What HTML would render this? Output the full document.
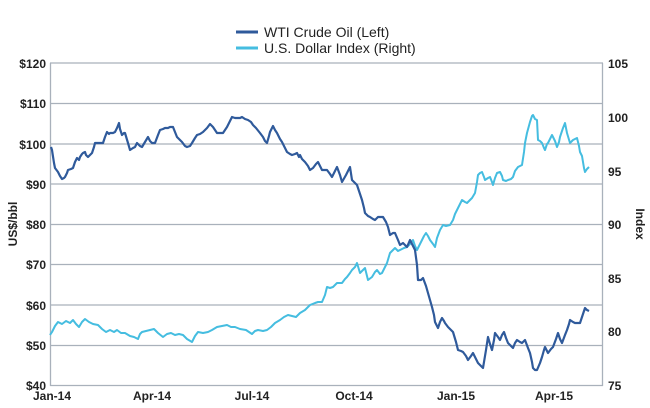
<!DOCTYPE html>
<html><head><meta charset="utf-8"><style>
html,body{margin:0;padding:0;background:#fff;}
svg{display:block;font-family:"Liberation Sans",sans-serif;}
</style></head><body>
<svg width="650" height="408" viewBox="0 0 650 408" xmlns="http://www.w3.org/2000/svg">
<g stroke="#a9b1bb" stroke-width="1.3">
<line x1="50" y1="63" x2="603" y2="63"/>
<line x1="50" y1="103.5" x2="603" y2="103.5"/>
<line x1="50" y1="144" x2="603" y2="144"/>
<line x1="50" y1="184" x2="603" y2="184"/>
<line x1="50" y1="224.5" x2="603" y2="224.5"/>
<line x1="50" y1="264.5" x2="603" y2="264.5"/>
<line x1="50" y1="305" x2="603" y2="305"/>
<line x1="50" y1="345.5" x2="603" y2="345.5"/>
<line x1="50" y1="385.5" x2="603" y2="385.5"/>
<line x1="50.5" y1="63" x2="50.5" y2="386"/>
<line x1="602.5" y1="63" x2="602.5" y2="386"/>
</g>
<g font-size="12" font-weight="bold" fill="#222" text-anchor="end">
<text x="46" y="68">$120</text><text x="46" y="108">$110</text><text x="46" y="149">$100</text>
<text x="46" y="189">$90</text><text x="46" y="229">$80</text><text x="46" y="269">$70</text>
<text x="46" y="310">$60</text><text x="46" y="350">$50</text><text x="46" y="390">$40</text>
</g>
<g font-size="12" font-weight="bold" fill="#222" text-anchor="start">
<text x="608" y="68">105</text><text x="608" y="122">100</text><text x="608" y="176">95</text>
<text x="608" y="229">90</text><text x="608" y="283">85</text><text x="608" y="336">80</text><text x="608" y="390">75</text>
</g>
<g font-size="12" font-weight="bold" fill="#222" text-anchor="middle">
<text x="52" y="400">Jan-14</text><text x="152" y="400">Apr-14</text><text x="252" y="400">Jul-14</text>
<text x="354" y="400">Oct-14</text><text x="456" y="400">Jan-15</text><text x="554" y="400">Apr-15</text>
</g>
<text transform="translate(17,224) rotate(-90)" font-size="12" font-weight="bold" fill="#222" text-anchor="middle">US$/bbl</text>
<text transform="translate(636,224) rotate(90)" font-size="12" font-weight="bold" fill="#222" text-anchor="middle">Index</text>
<line x1="236" y1="32" x2="258" y2="32" stroke="#2f5a9b" stroke-width="3"/>
<line x1="236" y1="48" x2="258" y2="48" stroke="#45bde0" stroke-width="3"/>
<text x="264" y="37" font-size="14" fill="#222">WTI Crude Oil  (Left)</text>
<text x="264" y="53" font-size="14" fill="#222">U.S. Dollar Index  (Right)</text>
<polyline fill="none" stroke="#45bde0" stroke-width="2" stroke-linejoin="round" points="50,335 52,332 55,326 58,322 62,324 66,321 70,323 73,320 76,324 79,327 82,322 85,319 89,322 93,324 98,325 102,329 106,332 110,330 114,332 117,330 121,333 125,333 130,336 134,337 138,339 140,334 142,332 146,331 150,330 154,329 158,333 163,337 167,334 171,333 175,335 179,334 183,335 187,339 192,342 195,336 198,332 203,333 208,332 212,330 217,327 222,326 227,325 231,327 235,327 240,329 246,330 249,332 252,334 255,331 258,330 263,331 267,330 271,327 275,323 280,320 284,317 288,315 292,316 296,317 300,313 305,310 310,305 315,303 318,302 322,302 325,295 327,287 330,288 333,287 337,283 342,283 345,279 347,277 350,273 352,270 355,267 357,263 360,273 363,270 365,268 368,280 372,277 375,272 377,270 380,274 382,273 385,267 387,263 390,253 393,250 395,248 398,251 400,250 404,248 407,247 410,244 413,240 415,246 417,250 420,244 422,240 424,236 426,233 428,236 430,240 433,244 435,247 437,238 440,230 443,225 446,226 450,225 453,220 455,214 457,210 460,204 462,200 465,202 467,203 470,200 472,198 475,193 477,182 478,175 480,173 482,172 484,177 485,180 488,178 490,177 492,182 493,185 495,178 497,173 500,172 502,176 503,180 506,181 508,180 511,179 513,177 515,171 518,167 520,166 522,165 524,152 525,143 527,133 530,122 532,116 533,115 535,119 537,120 538,140 540,141 542,143 544,148 545,150 547,144 548,143 550,139 552,135 555,141 557,147 559,142 560,137 563,128 565,123 567,133 570,143 572,141 573,140 575,139 577,138 579,146 580,152 582,156 584,168 585,172 587,169 589,167"/>
<polyline fill="none" stroke="#2f5a9b" stroke-width="2.2" stroke-linejoin="round" points="51,147 52,150 54,163 55,168 58,172 60,176 62,179 64,178 65,177 67,173 68,170 71,169 73,168 75,162 77,158 79,160 80,157 82,154 83,153 85,152 86,155 88,157 90,155 92,153 94,147 95,143 99,143 103,143 105,137 107,132 109,134 110,133 113,133 115,132 117,128 119,123 120,129 122,135 124,133 125,133 128,143 130,150 133,148 135,147 137,143 140,146 142,147 145,142 148,137 150,141 152,143 155,143 158,135 160,130 163,129 165,128 168,128 170,127 173,127 175,132 177,137 180,140 182,142 185,146 187,147 190,146 192,143 195,138 197,135 200,134 203,132 207,128 210,124 212,126 213,127 215,130 217,133 220,133 223,133 225,130 227,127 230,121 232,117 235,118 238,118 240,118 242,117 245,119 248,120 251,122 253,125 256,128 260,133 263,137 265,141 267,143 269,136 270,132 272,128 273,126 275,130 277,133 280,139 282,142 285,148 287,152 290,154 292,155 295,154 297,153 299,157 300,155 302,159 305,162 308,166 310,170 313,168 316,164 318,162 320,166 322,170 325,170 327,170 330,174 332,177 335,171 337,167 340,175 342,182 346,175 350,167 352,180 355,183 357,185 360,194 362,200 364,208 365,213 368,216 370,217 373,219 375,220 378,217 381,217 383,217 386,222 388,227 390,235 393,233 395,233 398,240 400,245 403,243 405,245 407,247 410,240 413,246 415,250 417,265 418,280 421,280 423,278 426,286 428,293 430,300 432,307 434,315 435,322 437,326 438,328 440,322 442,318 444,321 445,323 448,327 450,329 453,332 456,342 458,350 461,351 463,352 466,356 468,360 471,356 473,353 476,359 478,363 481,366 483,368 486,350 488,337 490,344 492,350 494,340 495,333 498,337 500,340 502,335 504,332 506,338 508,343 511,346 513,348 515,343 517,340 520,342 522,343 524,341 525,340 528,348 530,353 532,362 533,368 535,370 537,370 540,363 542,357 544,350 545,347 547,351 548,353 551,349 553,347 556,339 558,333 560,339 562,343 565,335 567,330 569,324 570,320 573,322 575,323 578,323 580,323 583,314 585,308 587,310 589,311"/>
</svg>
</body></html>
